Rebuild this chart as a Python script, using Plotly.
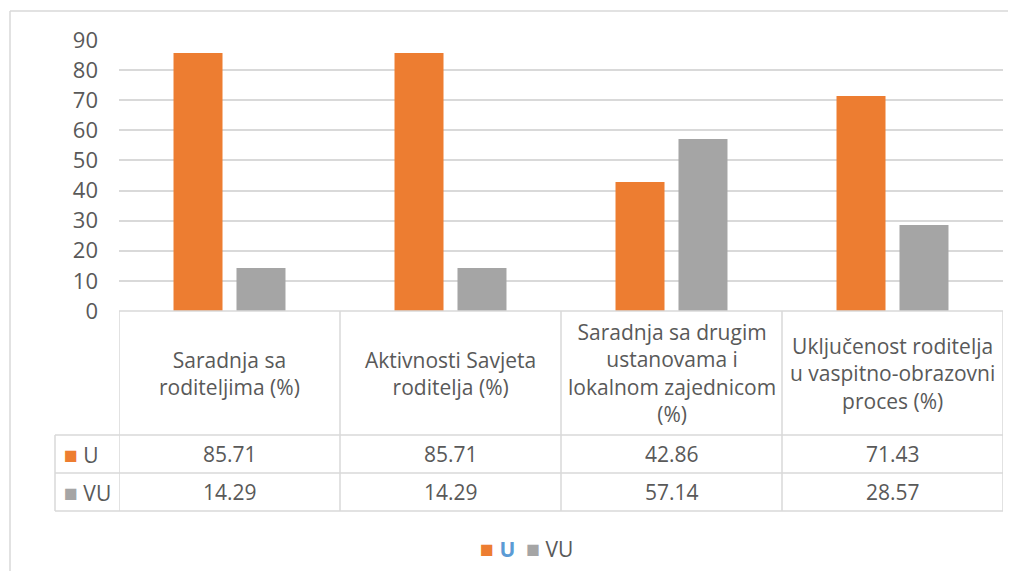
import plotly.graph_objects as go

categories = [
    "Saradnja sa<br>roditeljima (%)",
    "Aktivnosti Savjeta<br>roditelja (%)",
    "Saradnja sa drugim<br>ustanovama i<br>lokalnom zajednicom<br>(%)",
    "Uključenost roditelja<br>u vaspitno-obrazovni<br>proces (%)",
]
series_names = ["U", "VU"]
u_values = [85.71, 85.71, 42.86, 71.43]
vu_values = [14.29, 14.29, 57.14, 28.57]
colors = ["#ED7D31", "#A5A5A5"]
y_ticks = [0, 10, 20, 30, 40, 50, 60, 70, 80, 90]

# page body keeps its default 8px margin; figure sized to fill the rest of the window
OFF = 8
W, H = 1000, 563
TXT = "#595959"
LINE = "#D9D9D9"
FONT = "Open Sans"
FS = 21

def px(x):
    return (x - OFF) / W

def py(y):
    return 1 - (y - OFF) / H

x_idx = list(range(len(categories)))

fig = go.Figure()
fig.add_trace(go.Bar(x=x_idx, y=u_values, marker_color=colors[0], marker_line_width=0, name=series_names[0]))
fig.add_trace(go.Bar(x=x_idx, y=vu_values, marker_color=colors[1], marker_line_width=0, name=series_names[1]))

shapes = []
# chart-area border (top and left edges visible)
shapes.append(dict(type="line", xref="paper", yref="paper", x0=px(10), x1=1, y0=py(11), y1=py(11),
                   line=dict(color=LINE, width=1.5)))
shapes.append(dict(type="line", xref="paper", yref="paper", x0=px(10), x1=px(10), y0=py(11), y1=0,
                   line=dict(color=LINE, width=1.5)))

# data table grid
x_left, x_plot, x_right = 55, 119, 1003
y_top, y_head, y_r1, y_r2 = 311, 435, 473, 511
shapes.append(dict(type="line", xref="paper", yref="paper", x0=px(x_plot), x1=px(x_right), y0=py(y_top), y1=py(y_top),
                   line=dict(color=LINE, width=1.5)))
for yy in (y_head, y_r1, y_r2):
    shapes.append(dict(type="line", xref="paper", yref="paper", x0=px(x_left), x1=px(x_right), y0=py(yy), y1=py(yy),
                       line=dict(color=LINE, width=1.5)))
shapes.append(dict(type="line", xref="paper", yref="paper", x0=px(x_left), x1=px(x_left), y0=py(y_head), y1=py(y_r2),
                   line=dict(color=LINE, width=1.5)))
for i in range(len(categories) + 1):
    shapes.append(dict(type="line", xref="x", yref="paper", x0=i - 0.5, x1=i - 0.5, y0=py(y_top), y1=py(y_r2),
                       line=dict(color=LINE, width=1.5)))

annotations = []
for i, cat in enumerate(categories):
    annotations.append(dict(x=i, y=py((y_top + y_head) / 2), xref="x", yref="paper", text=cat,
                            showarrow=False, font=dict(family=FONT, size=FS, color=TXT),
                            xanchor="center", yanchor="middle", align="center"))
    annotations.append(dict(x=i, y=py((y_head + y_r1) / 2), xref="x", yref="paper", text=f"{u_values[i]:.2f}",
                            showarrow=False, font=dict(family=FONT, size=FS, color=TXT),
                            xanchor="center", yanchor="middle"))
    annotations.append(dict(x=i, y=py((y_r1 + y_r2) / 2), xref="x", yref="paper", text=f"{vu_values[i]:.2f}",
                            showarrow=False, font=dict(family=FONT, size=FS, color=TXT),
                            xanchor="center", yanchor="middle"))

SQ = "<span style='color:{c};font-size:23px'>■</span>"
for j, (nm, col) in enumerate(zip(series_names, colors)):
    yy = (y_head + y_r1) / 2 if j == 0 else (y_r1 + y_r2) / 2
    annotations.append(dict(x=px(62), y=py(yy), xref="paper", yref="paper",
                            text=SQ.format(c=col) + " " + nm,
                            showarrow=False, font=dict(family=FONT, size=FS, color=TXT),
                            xanchor="left", yanchor="middle"))

# legend (as in the original: bold blue "U")
legend_text = (SQ.format(c=colors[0]) + f" <b><span style='color:#5B9BD5'>{series_names[0]}</span></b>"
               + "  " + SQ.format(c=colors[1]) + f" {series_names[1]}")
annotations.append(dict(x=px(526), y=py(548), xref="paper", yref="paper", text=legend_text,
                        showarrow=False, font=dict(family=FONT, size=FS, color=TXT),
                        xanchor="center", yanchor="middle"))

fig.update_layout(
    width=W, height=H,
    margin=dict(l=0, r=0, t=0, b=0, pad=0, autoexpand=False),
    paper_bgcolor="white", plot_bgcolor="white",
    barmode="group", bargap=0.43, bargroupgap=0.222,
    font=dict(family=FONT, color=TXT, size=FS),
    xaxis=dict(domain=[px(x_plot), px(x_right)], range=[-0.5, len(categories) - 0.5], automargin=False,
               showticklabels=False, showgrid=False, zeroline=False, ticks=""),
    yaxis=dict(domain=[py(y_top), py(40)], range=[0, 90], tickvals=y_ticks, automargin=False,
               showgrid=True, gridcolor=LINE, gridwidth=1.5, zeroline=False,
               tickfont=dict(family=FONT, size=22, color=TXT), ticklabelstandoff=20),
    showlegend=False,
    shapes=shapes, annotations=annotations,
)

fig.write_html("out.html", config={"displayModeBar": False})
